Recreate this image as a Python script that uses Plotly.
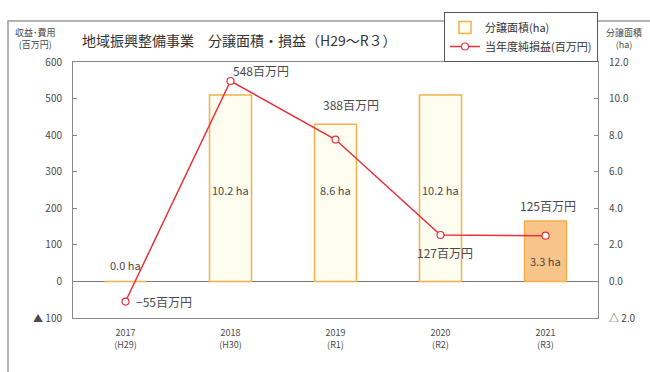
import plotly.graph_objects as go

# ---- data ----
years = ["2017<br>(H29)", "2018<br>(H30)", "2019<br>(R1)", "2020<br>(R2)", "2021<br>(R3)"]
area_ha = [0.0, 10.2, 8.6, 10.2, 3.3]
profit_m = [-55, 548, 388, 127, 125]
left_tickvals = [-100, 0, 100, 200, 300, 400, 500, 600]
left_ticktext = ["▲ 100", "0", "100", "200", "300", "400", "500", "600"]
right_tickvals = [-2, 0, 2, 4, 6, 8, 10, 12]
right_ticktext = ["△ 2.0", "0.0", "2.0", "4.0", "6.0", "8.0", "10.0", "12.0"]

FONT = "Noto Sans CJK JP"
TXT = "#4a4a4a"
ORANGE = "#f2b04a"
RED = "#e8303a"

# bar fill: last (current) year highlighted
bar_fill = ["rgba(255,253,240,1)"] * (len(years) - 1) + ["#f9c48a"]

fig = go.Figure()
fig.add_trace(go.Bar(
    x=years, y=area_ha, yaxis="y", name="分譲面積(ha)",
    marker=dict(color=bar_fill, line=dict(color=ORANGE, width=1.5)),
    width=0.4,
))
fig.add_trace(go.Scatter(
    x=years, y=profit_m, yaxis="y2", name="当年度純損益(百万円)",
    mode="lines+markers",
    line=dict(color=RED, width=1.5),
    marker=dict(symbol="circle", size=7, color="white", line=dict(color=RED, width=1.2)),
))

annotations = []
# area labels
for x, v in zip(years, area_ha):
    if v == 0:
        annotations.append(dict(x=x, y=0, yref="y", xref="x", text=f"{v:.1f} ha",
                                showarrow=False, yanchor="bottom", yshift=6,
                                font=dict(size=11, color=TXT, family=FONT)))
    else:
        ypos = 5.0 if v >= 5 else v / 3
        annotations.append(dict(x=x, y=ypos, yref="y", xref="x", text=f"{v:.1f} ha",
                                showarrow=False, yanchor="middle",
                                font=dict(size=11, color=TXT, family=FONT)))

# profit label placement (style only)
label_style = [
    dict(xanchor="left", yanchor="middle", xshift=8, yshift=0),
    dict(xanchor="left", yanchor="bottom", xshift=0, yshift=0),
    dict(xanchor="center", yanchor="bottom", xshift=15, yshift=25),
    dict(xanchor="center", yanchor="top", xshift=4, yshift=-7),
    dict(xanchor="center", yanchor="bottom", xshift=2, yshift=20),
]
for x, v, st in zip(years, profit_m, label_style):
    txt = f"{v}百万円" if v >= 0 else f"−{abs(v)}百万円"
    annotations.append(dict(x=x, y=v, xref="x", yref="y2", text=txt, showarrow=False,
                            font=dict(size=12, color=TXT, family=FONT), **st))

# title and axis titles
annotations.append(dict(x=(80 - 73) / 525, y=(318 - 32) / 263, xref="paper", yref="paper",
                        text="地域振興整備事業　分譲面積・損益（H29～R３）",
                        showarrow=False, xanchor="left", yanchor="middle",
                        font=dict(size=14, color="#333333", family=FONT)))
annotations.append(dict(x=(35 - 73) / 525, y=(318 - 16) / 263, xref="paper", yref="paper",
                        text="収益･費用<br>(百万円)", showarrow=False,
                        xanchor="center", yanchor="top",
                        font=dict(size=9, color=TXT, family=FONT)))
annotations.append(dict(x=(624 - 73) / 525, y=(318 - 16) / 263, xref="paper", yref="paper",
                        text="分譲面積<br>(ha)", showarrow=False,
                        xanchor="center", yanchor="top",
                        font=dict(size=9, color=TXT, family=FONT)))

shapes = [
    # outer frame
    dict(type="rect", xref="paper", yref="paper",
         x0=(8 - 73) / 525, x1=(700 - 73) / 525,
         y0=(318 - 400) / 263, y1=(318 - 13) / 263,
         line=dict(color="#999999", width=1.5), fillcolor="rgba(0,0,0,0)", layer="below"),
]

fig.update_layout(
    width=650, height=372,
    margin=dict(l=73, r=52, t=55, b=54),
    paper_bgcolor="white", plot_bgcolor="white",
    font=dict(family=FONT, size=9, color=TXT),
    showlegend=True,
    legend=dict(x=1, y=1, xanchor="right", yanchor="bottom", orientation="v",
                bordercolor="#555555", borderwidth=1, bgcolor="white",
                font=dict(size=11, color="#333333", family=FONT),
                tracegroupgap=0, itemwidth=30),
    xaxis=dict(showline=True, linecolor="#888888", mirror=True, ticks="",
               ticklabelstandoff=6,
               tickfont=dict(size=9, color=TXT), showgrid=False),
    yaxis=dict(side="right", range=[-2, 12], tickvals=right_tickvals, ticktext=right_ticktext,
               showgrid=False, zeroline=False, showline=True, linecolor="#888888",
               ticks="inside", ticklen=4, tickcolor="#888888",
               ticklabelstandoff=8,
               tickfont=dict(size=10, color=TXT)),
    yaxis2=dict(side="left", overlaying="y", range=[-100, 600],
                tickvals=left_tickvals, ticktext=left_ticktext,
                showgrid=False, zeroline=True, zerolinecolor="#777777", zerolinewidth=1,
                showline=True, linecolor="#888888",
                ticks="inside", ticklen=4, tickcolor="#888888",
                ticklabelstandoff=8,
                tickfont=dict(size=10, color=TXT)),
    annotations=annotations,
    shapes=shapes,
    bargap=0.6,
)

fig.write_html("out.html")
